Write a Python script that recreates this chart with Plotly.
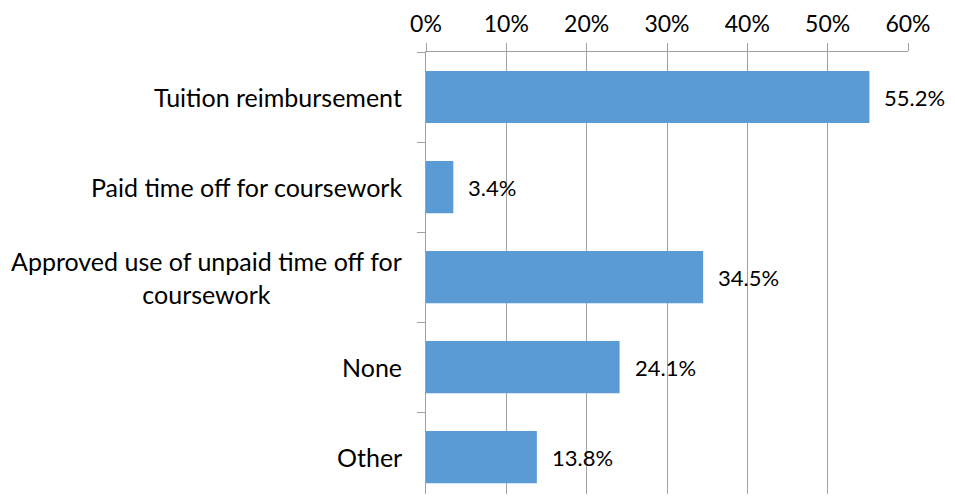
import plotly.graph_objects as go

categories = ["Tuition reimbursement", "Paid time off for coursework",
              "Approved use of unpaid time off for<br>coursework", "None", "Other"]
values = [55.2, 3.4, 34.5, 24.1, 13.8]
value_labels = ["55.2%", "3.4%", "34.5%", "24.1%", "13.8%"]
tick_vals = [0, 10, 20, 30, 40, 50, 60]
tick_text = ["0%", "10%", "20%", "30%", "40%", "50%", "60%"]

FONT = "Lato"
FS = 25
FS_NUM = 23
FS_LBL = 22
fig = go.Figure()
fig.add_trace(go.Bar(
    y=categories, x=values, orientation="h",
    marker=dict(color="#5B9BD5", line=dict(width=0)),
    width=0.58, hoverinfo="skip",
))

annotations = []
for c, v, t in zip(categories, values, value_labels):
    annotations.append(dict(x=v, y=c, xref="x", yref="y", text=t, showarrow=False,
                            xanchor="left", xshift=13, font=dict(family=FONT, size=FS_LBL, color="#000")))
    annotations.append(dict(x=0, y=c, xref="x", yref="y", text=c, showarrow=False,
                            xanchor="right", xshift=-22, align="center",
                            font=dict(family=FONT, size=FS, color="#000")))

fig.update_layout(
    width=947, height=486,
    margin=dict(l=418, r=47, t=44, b=0, autoexpand=False),
    plot_bgcolor="white", paper_bgcolor="white",
    showlegend=False,
    annotations=annotations,
    xaxis=dict(side="top", range=[0, 60], tickvals=tick_vals, ticktext=tick_text,
               automargin=False,
               showgrid=True, gridcolor="#A0A0A0", gridwidth=1,
               showline=True, linecolor="#A0A0A0", linewidth=1,
               ticks="outside", ticklen=8, tickcolor="#A0A0A0",
               ticklabelstandoff=2,
               tickfont=dict(family=FONT, size=FS_NUM, color="#000"), zeroline=False),
    yaxis=dict(showticklabels=False, automargin=False,
               showline=True, linecolor="#A0A0A0", linewidth=1,
               ticks="outside", tickson="boundaries", ticklen=8, tickcolor="#A0A0A0",
               showgrid=False, range=[4.41, -0.5]),
)

fig.write_html("out.html")
